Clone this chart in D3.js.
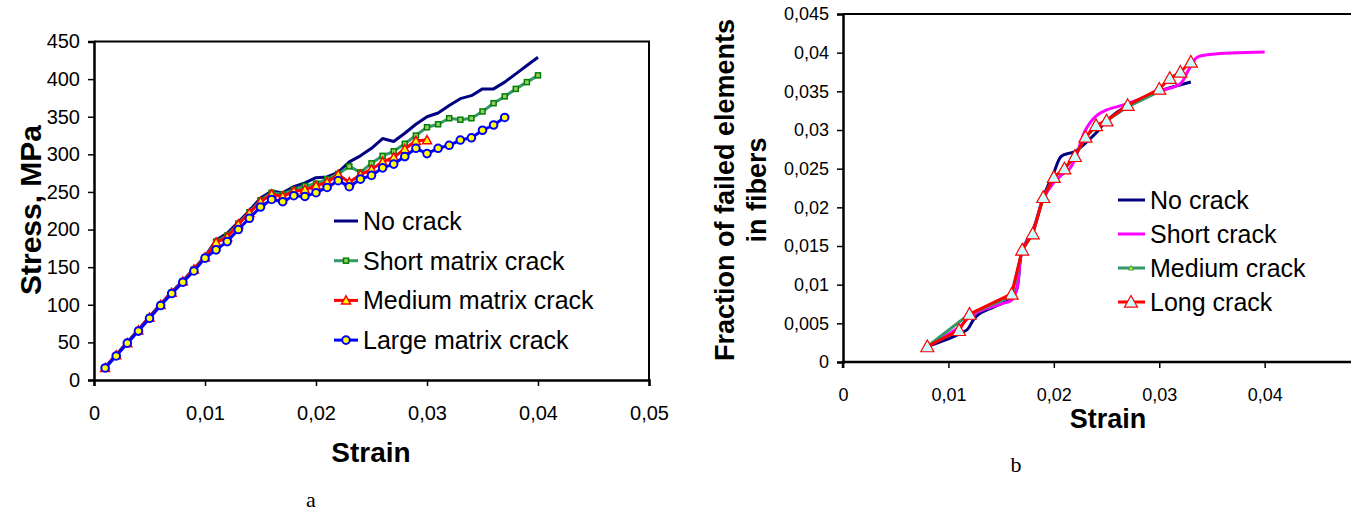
<!DOCTYPE html>
<html>
<head>
<meta charset="utf-8">
<script src="https://cdn.jsdelivr.net/npm/d3@7"></script>
<style>
  body { margin: 0; background: #fff; }
  svg { display: block; font-family: "Liberation Sans", Arial, sans-serif; }
</style>
</head>
<body>
<script>
const W = 1351, H = 516;

// ---- chart a: stress vs strain ----
const strainA = [0.001, 0.002, 0.003, 0.004, 0.005, 0.006, 0.007, 0.008, 0.009, 0.010,
  0.011, 0.012, 0.013, 0.014, 0.015, 0.016, 0.017, 0.018, 0.019, 0.020,
  0.021, 0.022, 0.023, 0.024, 0.025, 0.026, 0.027, 0.028, 0.029, 0.030,
  0.031, 0.032, 0.033, 0.034, 0.035, 0.036, 0.037, 0.038, 0.039, 0.040];
const noCrackA = [17, 34, 50, 67, 84, 101, 117, 132, 148, 164,
  186, 195, 210, 225, 242, 251, 249, 257, 262, 269,
  270, 276, 290, 298, 308, 321, 317, 328, 340, 350,
  355, 365, 374, 378, 387, 387, 396, 407, 418, 429];
const shortA = [16, 33, 50, 66, 83, 100, 116, 131, 147, 163,
  184, 192, 208, 223, 239, 249, 247, 253, 258, 261,
  267, 274, 284, 276, 288, 298, 304, 314, 325, 336,
  340, 348, 346, 348, 357, 368, 377, 387, 396, 405];
const mediumA = [16, 33, 49, 66, 83, 100, 116, 131, 147, 163,
  183, 190, 207, 222, 237, 247, 244, 251, 253, 258,
  263, 273, 263, 273, 280, 290, 296, 307, 318, 319];
const largeA = [16, 32, 49, 65, 82, 99, 115, 130, 145, 162,
  173, 184, 200, 215, 230, 240, 237, 245, 244, 249,
  256, 265, 257, 267, 272, 282, 287, 297, 308, 301,
  308, 312, 319, 322, 332, 339, 349];
const xTicksA = [0, 0.01, 0.02, 0.03, 0.04, 0.05];
const yTicksA = [0, 50, 100, 150, 200, 250, 300, 350, 400, 450];
const legendA = ["No crack", "Short matrix crack", "Medium matrix crack", "Large matrix crack"];

// ---- chart b: fraction of failed elements ----
const strainNoB = [0.008, 0.010, 0.011, 0.0118, 0.0124, 0.013, 0.015, 0.016, 0.0165, 0.017,
  0.018, 0.019, 0.020, 0.0207, 0.0215, 0.022, 0.023, 0.024, 0.025, 0.027, 0.030, 0.033];
const noCrackB = [0.002, 0.003, 0.0036, 0.0042, 0.0055, 0.0063, 0.0075, 0.0082, 0.0095, 0.0145,
  0.017, 0.0213, 0.0245, 0.0266, 0.0270, 0.0272, 0.0283, 0.0296, 0.0312, 0.0332, 0.0350, 0.0362];
const strainShortB = [0.008, 0.011, 0.012, 0.013, 0.015, 0.016, 0.0165, 0.017, 0.018, 0.019,
  0.020, 0.021, 0.0215, 0.022, 0.023, 0.024, 0.025, 0.027, 0.030, 0.032,
  0.0328, 0.0336, 0.035, 0.040];
const shortB = [0.002, 0.0045, 0.0058, 0.0066, 0.0075, 0.008, 0.0095, 0.0145, 0.0168, 0.0211,
  0.0232, 0.0245, 0.0250, 0.0262, 0.0300, 0.0318, 0.0326, 0.0334, 0.0350, 0.0360,
  0.0378, 0.0394, 0.0398, 0.0401];
const strainMedB = [0.008, 0.012, 0.016, 0.017, 0.018, 0.019, 0.020, 0.021, 0.022, 0.023,
  0.024, 0.025, 0.027, 0.030];
const mediumB = [0.002, 0.0062, 0.0085, 0.0145, 0.0166, 0.0213, 0.0239, 0.0250, 0.0266, 0.0290,
  0.0305, 0.0312, 0.0330, 0.0350];
const strainLongB = [0.008, 0.011, 0.012, 0.016, 0.017, 0.018, 0.019, 0.020, 0.021, 0.022,
  0.023, 0.024, 0.025, 0.027, 0.030, 0.031, 0.032, 0.033];
const longB = [0.002, 0.0041, 0.0062, 0.0088, 0.0145, 0.0166, 0.0213, 0.0239, 0.0250, 0.0266,
  0.0291, 0.0306, 0.0312, 0.0332, 0.0353, 0.0367, 0.0375, 0.0388];
const xTicksB = [0, 0.01, 0.02, 0.03, 0.04];
const yTicksB = [0, 0.005, 0.01, 0.015, 0.02, 0.025, 0.03, 0.035, 0.04, 0.045];
const legendB = ["No crack", "Short crack", "Medium crack", "Long crack"];

const locale = d3.formatLocale({ decimal: ",", thousands: " ", grouping: [3], currency: ["", ""] });
const fmt = v => locale.format("~g")(v);

const zip = (xs, ys) => ys.map((y, i) => [xs[i], y]);

const svg = d3.select("body").append("svg")
  .attr("width", W)
  .attr("height", H);

// ================= chart a =================
const xA = d3.scaleLinear().domain([0, 0.05]).range([94, 649]);
const yA = d3.scaleLinear().domain([0, 450]).range([380, 41.5]);

const gA = svg.append("g");

// frame (top + right)
gA.append("path")
  .attr("d", `M${xA(0)},${yA(450)}H${xA(0.05)}V${yA(0)}`)
  .attr("fill", "none").attr("stroke", "#000").attr("stroke-width", 2);

const axA_x = gA.append("g")
  .attr("transform", `translate(0,${yA(0)})`)
  .call(d3.axisBottom(xA).tickValues(xTicksA).tickFormat(fmt).tickSize(6).tickPadding(20));
const axA_y = gA.append("g")
  .attr("transform", `translate(${xA(0)},0)`)
  .call(d3.axisLeft(yA).tickValues(yTicksA).tickFormat(fmt).tickSize(6).tickPadding(8));
[axA_x, axA_y].forEach(ax => {
  ax.select(".domain").attr("stroke-width", 2.5);
  ax.selectAll(".tick line").attr("stroke-width", 1.5);
  ax.selectAll("text").attr("font-size", 20).attr("fill", "#000")
    .attr("font-family", "Liberation Sans, Arial, sans-serif");
});

const lineA = d3.line().x(d => xA(d[0])).y(d => yA(d[1]));

const seriesA = [
  { name: legendA[0], data: zip(strainA, noCrackA), color: "#000080", marker: null },
  { name: legendA[1], data: zip(strainA, shortA), color: "#339966", marker: "square" },
  { name: legendA[2], data: zip(strainA, mediumA), color: "#ff0000", marker: "triangle" },
  { name: legendA[3], data: zip(strainA, largeA), color: "#0000ff", marker: "circle" }
];

function drawMarker(g, type, x, y) {
  if (type === "square") {
    g.append("rect").attr("x", x - 2.5).attr("y", y - 2.5).attr("width", 5).attr("height", 5)
      .attr("fill", "#99cc66").attr("stroke", "#008000").attr("stroke-width", 1.5);
  } else if (type === "triangle") {
    const s = 4.5;
    g.append("path").attr("d", `M${x},${y - s}L${x + s},${y + s * 0.8}L${x - s},${y + s * 0.8}Z`)
      .attr("fill", "#ffff00").attr("stroke", "#ff0000").attr("stroke-width", 1.5);
  } else if (type === "circle") {
    g.append("circle").attr("cx", x).attr("cy", y).attr("r", 3.8)
      .attr("fill", "#ffff00").attr("stroke", "#0000ff").attr("stroke-width", 2);
  } else if (type === "bigTriangle") {
    const s = 6.5;
    g.append("path").attr("d", `M${x},${y - s}L${x + s},${y + s * 0.8}L${x - s},${y + s * 0.8}Z`)
      .attr("fill", "#ccffff").attr("stroke", "#ff0000").attr("stroke-width", 1.2);
  } else if (type === "smallTriangle") {
    const s = 2.5;
    g.append("path").attr("d", `M${x},${y - s}L${x + s},${y + s * 0.8}L${x - s},${y + s * 0.8}Z`)
      .attr("fill", "#ffff00").attr("stroke", "#339966").attr("stroke-width", 1);
  }
}

seriesA.forEach(s => {
  const g = gA.append("g");
  g.append("path").datum(s.data).attr("d", lineA)
    .attr("fill", "none").attr("stroke", s.color).attr("stroke-width", 3)
    .attr("stroke-linejoin", "round");
  if (s.marker) s.data.forEach(d => drawMarker(g, s.marker, xA(d[0]), yA(d[1])));
});

// legend a
const legA = gA.append("g");
seriesA.forEach((s, i) => {
  const y = 221 + i * 39.7;
  legA.append("line").attr("x1", 334).attr("x2", 358).attr("y1", y).attr("y2", y)
    .attr("stroke", s.color).attr("stroke-width", 3);
  if (s.marker) drawMarker(legA, s.marker, 346, y);
  legA.append("text").attr("x", 363).attr("y", y + 9).attr("font-size", 25).text(s.name);
});

gA.append("text").attr("transform", "translate(41,210) rotate(-90)")
  .attr("text-anchor", "middle").attr("font-weight", "bold").attr("font-size", 30)
  .text("Stress, MPa");
gA.append("text").attr("x", 371).attr("y", 462)
  .attr("text-anchor", "middle").attr("font-weight", "bold").attr("font-size", 28)
  .text("Strain");
gA.append("text").attr("x", 311).attr("y", 507)
  .attr("text-anchor", "middle").attr("font-size", 22)
  .attr("font-family", "Liberation Serif, Times New Roman, serif").text("a");

// ================= chart b =================
const xB = d3.scaleLinear().domain([0, 0.048]).range([843, 1349]);
const yB = d3.scaleLinear().domain([0, 0.045]).range([362, 14]);

const gB = svg.append("g");

gB.append("line").attr("x1", xB(0)).attr("x2", W).attr("y1", yB(0.045)).attr("y2", yB(0.045))
  .attr("stroke", "#000").attr("stroke-width", 2);

const axB_x = gB.append("g")
  .attr("transform", `translate(0,${yB(0)})`)
  .call(d3.axisBottom(xB).tickValues(xTicksB).tickFormat(fmt).tickSize(6).tickPadding(20));
const axB_y = gB.append("g")
  .attr("transform", `translate(${xB(0)},0)`)
  .call(d3.axisLeft(yB).tickValues(yTicksB).tickFormat(fmt).tickSize(6).tickPadding(8));
[axB_x, axB_y].forEach(ax => {
  ax.select(".domain").attr("stroke-width", 2.5);
  ax.selectAll(".tick line").attr("stroke-width", 1.5);
  ax.selectAll("text").attr("font-size", 18).attr("fill", "#000")
    .attr("font-family", "Liberation Sans, Arial, sans-serif");
});
axB_x.select(".domain").attr("d", `M${xB(0)},6V0H${W}`);

const smoothB = d3.line().x(d => xB(d[0])).y(d => yB(d[1])).curve(d3.curveCatmullRom);
const straightB = d3.line().x(d => xB(d[0])).y(d => yB(d[1]));

const seriesB = [
  { name: legendB[0], data: zip(strainNoB, noCrackB), color: "#000080", gen: smoothB, marker: null },
  { name: legendB[1], data: zip(strainShortB, shortB), color: "#ff00ff", gen: smoothB, marker: null },
  { name: legendB[2], data: zip(strainMedB, mediumB), color: "#339966", gen: straightB, marker: "smallTriangle" },
  { name: legendB[3], data: zip(strainLongB, longB), color: "#ff0000", gen: straightB, marker: "bigTriangle" }
];

seriesB.forEach(s => {
  const g = gB.append("g");
  g.append("path").datum(s.data).attr("d", s.gen)
    .attr("fill", "none").attr("stroke", s.color).attr("stroke-width", 3)
    .attr("stroke-linejoin", "round");
  if (s.marker) s.data.forEach(d => drawMarker(g, s.marker, xB(d[0]), yB(d[1])));
});

const legB = gB.append("g");
seriesB.forEach((s, i) => {
  const y = 200 + i * 34;
  legB.append("line").attr("x1", 1118).attr("x2", 1145).attr("y1", y).attr("y2", y)
    .attr("stroke", s.color).attr("stroke-width", 3);
  if (s.marker) drawMarker(legB, s.marker, 1131, y);
  legB.append("text").attr("x", 1150).attr("y", y + 9).attr("font-size", 25).text(s.name);
});

gB.append("text").attr("transform", "translate(0,190) rotate(-90)")
  .attr("text-anchor", "middle").attr("font-weight", "bold").attr("font-size", 27)
  .selectAll("tspan").data(["Fraction of failed elements", "in fibers"]).join("tspan")
  .attr("x", 0).attr("y", (d, i) => i === 0 ? 734 : 766).text(d => d);
gB.append("text").attr("x", 1108).attr("y", 428)
  .attr("text-anchor", "middle").attr("font-weight", "bold").attr("font-size", 27)
  .text("Strain");
gB.append("text").attr("x", 1016).attr("y", 472)
  .attr("text-anchor", "middle").attr("font-size", 22)
  .attr("font-family", "Liberation Serif, Times New Roman, serif").text("b");
</script>
</body>
</html>
